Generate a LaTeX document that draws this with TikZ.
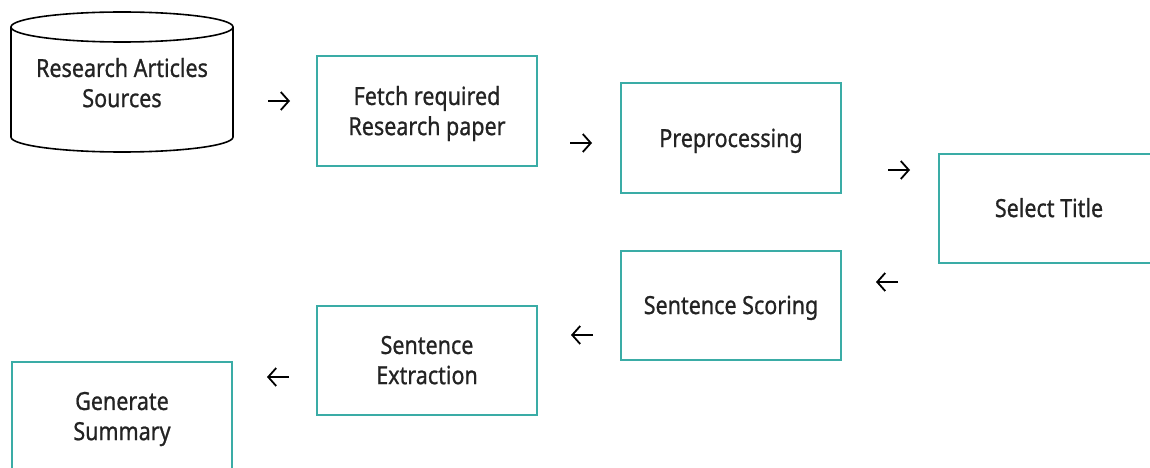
\documentclass[tikz,border=0pt]{standalone}
\usepackage{graphicx}
\usepackage{fontspec}
\setmainfont{Noto Sans}[FakeBold=0.9]
\usetikzlibrary{arrows.meta}
\definecolor{boxteal}{RGB}{58,172,166}
\definecolor{inkgray}{RGB}{35,35,35}
% labels are set slightly taller than the font's natural proportions,
% with some extra room on top so they sit a little below the centre
\newcommand\tallcaption[1]{\raisebox{0pt}[\dimexpr\height+6pt\relax]{\scalebox{1}[1.16]{\begin{tabular}{@{}c@{}}#1\end{tabular}}}}
\tikzset{
  stepbox/.style={draw=boxteal, line width=2pt, minimum width=220pt, minimum height=109pt,
    align=center, inner sep=0pt, text=inkgray, font=\fontsize{21.5}{26}\selectfont},
  storelabel/.style={align=center, inner sep=0pt, text=inkgray, font=\fontsize{21.5}{26}\selectfont},
  flow/.style={line width=1.8pt, black, -{Straight Barb[length=8pt,width=18pt,line width=1.8pt]}}
}
\begin{document}
\begin{tikzpicture}[x=1pt,y=-1pt]
\useasboundingbox (0,0) rectangle (1150,468);
\clip (0,0) rectangle (1150,468);
\fill[white] (0,0) rectangle (1150,468);

% data store drawn as a cylinder
\draw[line width=1.6pt, black] (122,27) ellipse [x radius=111, y radius=15];
\draw[line width=1.6pt, black] (11,27) -- (11,137) arc[start angle=180, end angle=0, x radius=111, y radius=15] -- (233,27);
\node[storelabel] (src) at (122,83) {\tallcaption{Research Articles\\Sources}};

% process steps
\node[stepbox] (fetch) at (427,111) {\tallcaption{Fetch required\\Research paper}};
\node[stepbox] (prep)  at (731,138) {\tallcaption{Preprocessing}};
\node[stepbox] (title) at (1049,208) {\tallcaption{Select Title}};
\node[stepbox] (score) at (731,305) {\tallcaption{Sentence Scoring}};
\node[stepbox] (extr)  at (427,360) {\tallcaption{Sentence\\Extraction}};
\node[stepbox] (summ)  at (122,416) {\tallcaption{Generate\\Summary}};

% flow markers between the steps
\coordinate (a1s) at (268,101); \coordinate (a1e) at (290,101);
\coordinate (a2s) at (570,143); \coordinate (a2e) at (592,143);
\coordinate (a3s) at (888,170); \coordinate (a3e) at (910,170);
\coordinate (a4s) at (898,282); \coordinate (a4e) at (876,282);
\coordinate (a5s) at (593,335); \coordinate (a5e) at (571,335);
\coordinate (a6s) at (289,377); \coordinate (a6e) at (267,377);
\foreach \i in {1,...,6} \draw[flow] (a\i s) -- (a\i e);
\end{tikzpicture}
\end{document}
